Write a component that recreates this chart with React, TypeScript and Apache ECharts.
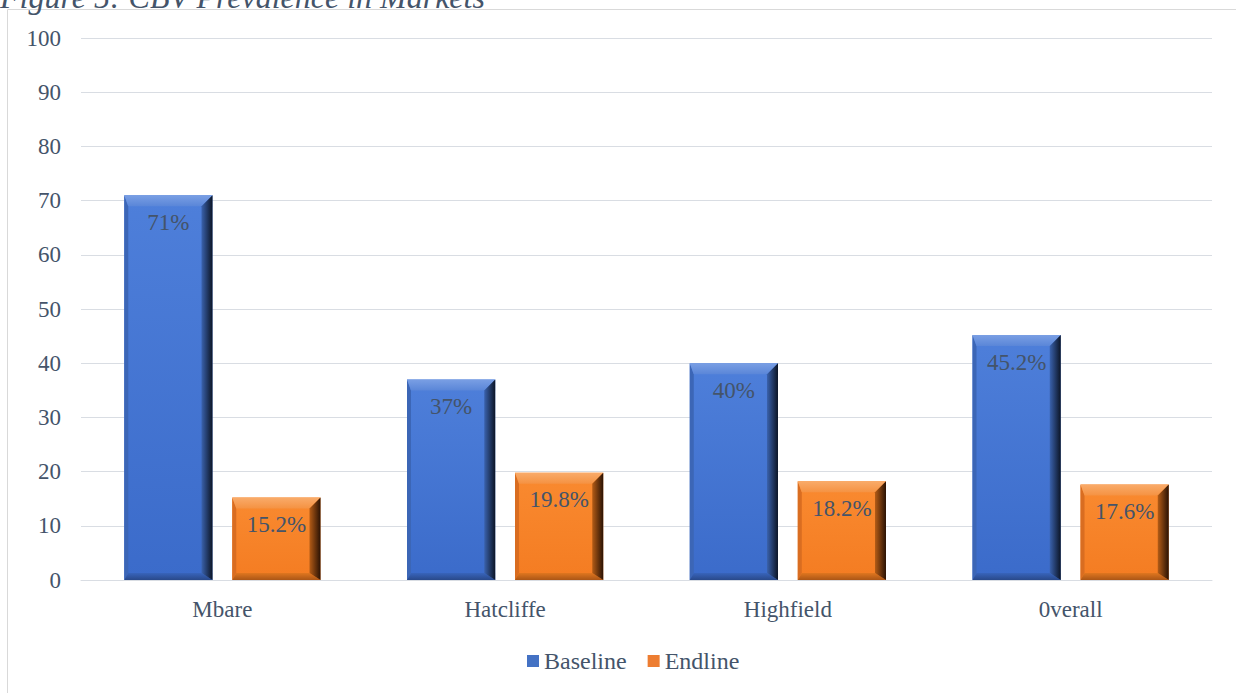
import React, { useEffect, useRef } from "react";
import * as echarts from "echarts";

// Market names on the category axis
const markets = ["Mbare", "Hatcliffe", "Highfield", "0verall"];
// Prevalence (%) at baseline and at endline
const baseline = [71, 37, 40, 45.2];
const endline = [15.2, 19.8, 18.2, 17.6];
// Value-axis range
const yMin = 0;
const yMax = 100;
const yStep = 10;

const titleText = "Figure 5: CBV Prevalence in Markets";
const textColor = "#44546A";
const serif = "Liberation Serif";

// Bar width and gap as fractions of one category band
const BAR_RATIO = 0.312;
const GAP_RATIO = 0.07;

type Palette = {
  faceTop: string;
  faceBottom: string;
  topLight: string;
  topDark: string;
  left: string;
  rightInner: string;
  rightOuter: string;
  bottomInner: string;
  bottomOuter: string;
};

const blue: Palette = {
  faceTop: "#4e7fda",
  faceBottom: "#3b6bca",
  topLight: "#7a9fe4",
  topDark: "#5a86d8",
  left: "#3c66b6",
  rightInner: "#3a62ad",
  rightOuter: "#0c1526",
  bottomInner: "#3864bb",
  bottomOuter: "#29498a",
};

const orange: Palette = {
  faceTop: "#f98a30",
  faceBottom: "#f47c22",
  topLight: "#f9ab6a",
  topDark: "#f59242",
  left: "#d96d21",
  rightInner: "#b45c16",
  rightOuter: "#2a1204",
  bottomInner: "#e0761f",
  bottomOuter: "#ab5616",
};

const fmt = (v: number) => `${v}%`;

// Bevelled bar drawn on the category/value scales; side -1 = left bar, +1 = right bar
function bevelBar(pal: Palette, side: number) {
  return (_params: any, api: any) => {
    const cat = api.value(0);
    const val = api.value(1);
    const topPt = api.coord([cat, val]);
    const basePt = api.coord([cat, 0]);
    const band = api.size([1, 0])[0];
    const w = band * BAR_RATIO;
    const gap = band * GAP_RATIO;
    const cx = topPt[0] + side * (gap / 2 + w / 2);
    const x0 = cx - w / 2;
    const x1 = cx + w / 2;
    const y0 = topPt[1];
    const y1 = basePt[1];
    const b = Math.min(11, (y1 - y0) / 3, w / 4);
    const bs = Math.min(4, b); // narrow left edge
    const bb = Math.min(7, b); // bottom bevel

    return {
      type: "group",
      children: [
        {
          type: "rect",
          shape: { x: x0, y: y0, width: w, height: y1 - y0 },
          style: {
            fill: new echarts.graphic.LinearGradient(0, 0, 0, 1, [
              { offset: 0, color: pal.faceTop },
              { offset: 1, color: pal.faceBottom },
            ]),
          },
        },
        {
          type: "polygon",
          shape: { points: [[x0, y0], [x0 + bs, y0 + b], [x0 + bs, y1 - bb], [x0, y1]] },
          style: { fill: pal.left },
        },
        {
          type: "polygon",
          shape: { points: [[x0, y1], [x1, y1], [x1 - b, y1 - bb], [x0 + bs, y1 - bb]] },
          style: {
            fill: new echarts.graphic.LinearGradient(0, 0, 0, 1, [
              { offset: 0, color: pal.bottomInner },
              { offset: 1, color: pal.bottomOuter },
            ]),
          },
        },
        {
          type: "polygon",
          shape: { points: [[x0, y0], [x1, y0], [x1 - b, y0 + b], [x0 + bs, y0 + b]] },
          style: {
            fill: new echarts.graphic.LinearGradient(0, 0, 0, 1, [
              { offset: 0, color: pal.topLight },
              { offset: 1, color: pal.topDark },
            ]),
          },
        },
        {
          type: "polygon",
          shape: { points: [[x1, y0], [x1, y1], [x1 - b, y1 - bb], [x1 - b, y0 + b]] },
          style: {
            fill: new echarts.graphic.LinearGradient(0, 0, 1, 0, [
              { offset: 0, color: pal.rightInner },
              { offset: 1, color: pal.rightOuter },
            ]),
          },
        },
        {
          type: "text",
          style: {
            text: fmt(val),
            x: cx,
            y: y0 + 27,
            align: "center",
            verticalAlign: "middle",
            font: `23px "${serif}"`,
            fill: textColor,
          },
        },
      ],
    };
  };
}

export default function App() {
  const ref = useRef<HTMLDivElement>(null);

  useEffect(() => {
    if (!ref.current) return;
    const chart = echarts.init(ref.current, null, { renderer: "svg" });
    chart.setOption({
      animation: false,
      backgroundColor: "#ffffff",
      textStyle: { fontFamily: serif },
      graphic: [
        {
          type: "rect",
          z: -10,
          shape: { x: 7.5, y: 9.5, width: 1300, height: 720 },
          style: { fill: "none", stroke: "#d9d9d9", lineWidth: 1 },
        },
        {
          type: "text",
          x: 0,
          y: 13,
          style: {
            text: titleText,
            font: `italic 32px "${serif}"`,
            fill: textColor,
            verticalAlign: "bottom",
          },
        },
      ],
      grid: { left: 81, right: 24, top: 38, bottom: 113, containLabel: false },
      legend: {
        bottom: 15,
        left: 522,
        itemWidth: 12,
        itemHeight: 12,
        itemGap: 21,
        icon: "rect",
        textStyle: { fontFamily: serif, fontSize: 24, color: textColor },
        data: ["Baseline", "Endline"],
      },
      xAxis: {
        type: "category",
        data: markets,
        axisLine: { show: true, lineStyle: { color: "#d9dde3", width: 1 } },
        axisTick: { show: false },
        axisLabel: { fontFamily: serif, fontSize: 23, color: textColor, margin: 18 },
      },
      yAxis: {
        type: "value",
        min: yMin,
        max: yMax,
        interval: yStep,
        axisLine: { show: false },
        axisTick: { show: false },
        axisLabel: { fontFamily: serif, fontSize: 23, color: textColor, margin: 20 },
        splitLine: { lineStyle: { color: "#d9dde3", width: 1 } },
      },
      series: [
        {
          name: "Baseline",
          type: "custom",
          itemStyle: { color: "#4472C4" },
          renderItem: bevelBar(blue, -1),
          encode: { x: 0, y: 1 },
          data: baseline.map((v, i) => [i, v]),
        },
        {
          name: "Endline",
          type: "custom",
          itemStyle: { color: "#ED7D31" },
          renderItem: bevelBar(orange, 1),
          encode: { x: 0, y: 1 },
          data: endline.map((v, i) => [i, v]),
        },
      ],
    });
    return () => chart.dispose();
  }, []);

  return (
    <div
      ref={ref}
      style={{ position: "absolute", left: 0, top: 0, width: 1236, height: 693 }}
    />
  );
}
